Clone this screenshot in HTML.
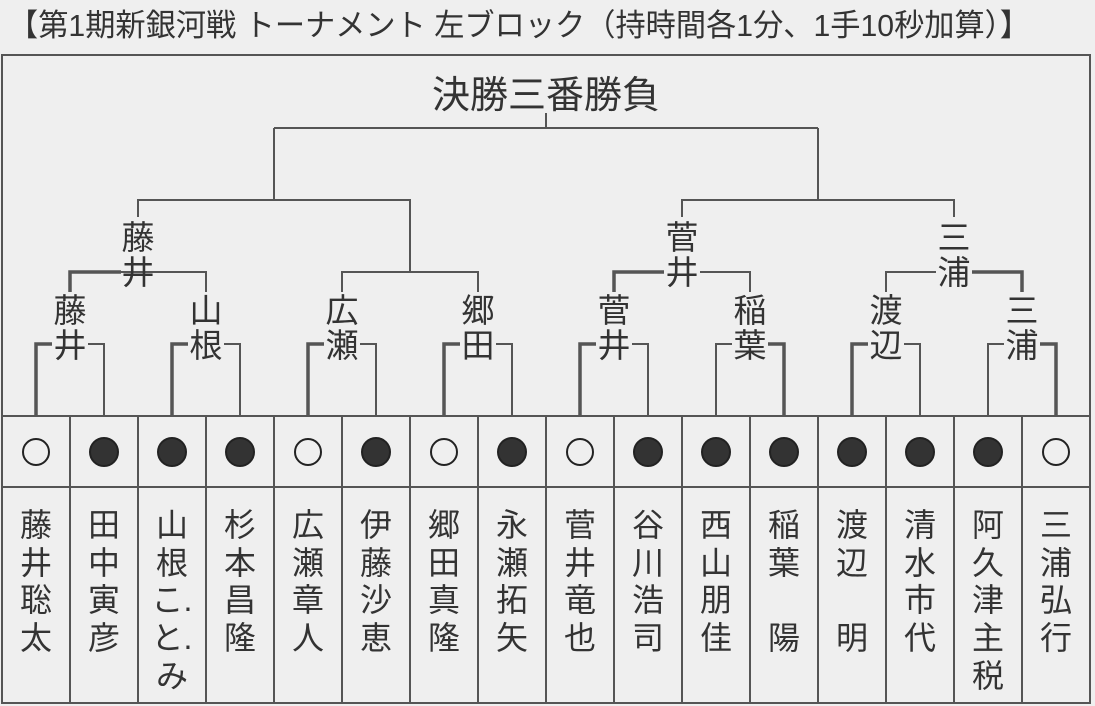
<!DOCTYPE html>
<html><head><meta charset="utf-8"><style>
html,body{margin:0;padding:0;background:#efefef;}
svg{display:block;}
text{font-family:"Liberation Sans","Noto Sans CJK JP",sans-serif;fill:#333;}
</style></head><body>
<svg width="1095" height="706" viewBox="0 0 1095 706" xmlns="http://www.w3.org/2000/svg">
<rect width="1095" height="706" fill="#efefef"/>
<text x="8" y="36" font-size="31" textLength="1022" lengthAdjust="spacingAndGlyphs">【第1期新銀河戦 トーナメント 左ブロック（持時間各1分、1手10秒加算）】</text>
<g stroke="#555" fill="none" stroke-width="2">
<rect x="2" y="55" width="1088" height="648"/>
<line x1="2" y1="416" x2="1090" y2="416"/>
<line x1="2" y1="487" x2="1090" y2="487"/>
<path d="M70 416V703M138 416V703M206 416V703M274 416V703M342 416V703M410 416V703M478 416V703M546 416V703M614 416V703M682 416V703M750 416V703M818 416V703M886 416V703M954 416V703M1022 416V703"/>
<path d="M546 113V128M274 128H818M274 128V200M818 128V200"/>
<path d="M138 217V200H410V272M682 217V200H954V217"/>
<path d="M342 292V272H478V292"/>
<path d="M120 272H206V292" />
<path d="M70 292V272H121" stroke-width="3.5"/>
<path d="M664 272H614V292" stroke-width="3.5"/>
<path d="M700 272H750V292"/>
<path d="M936 272H886V292"/>
<path d="M972 272H1022V292" stroke-width="3.5"/>
</g>
<g stroke="#555" fill="none">
<path d="M36 416V344H52" stroke-width="3.5"/><path d="M88 344H104V416" stroke-width="2"/>
<path d="M172 416V344H188" stroke-width="3.5"/><path d="M224 344H240V416" stroke-width="2"/>
<path d="M308 416V344H324" stroke-width="3.5"/><path d="M360 344H376V416" stroke-width="2"/>
<path d="M444 416V344H460" stroke-width="3.5"/><path d="M496 344H512V416" stroke-width="2"/>
<path d="M580 416V344H596" stroke-width="3.5"/><path d="M632 344H648V416" stroke-width="2"/>
<path d="M716 416V344H732" stroke-width="2"/><path d="M768 344H784V416" stroke-width="3.5"/>
<path d="M852 416V344H868" stroke-width="3.5"/><path d="M904 344H920V416" stroke-width="2"/>
<path d="M988 416V344H1004" stroke-width="2"/><path d="M1040 344H1056V416" stroke-width="3.5"/>
</g>
<g font-size="33" text-anchor="middle">
<text x="546" y="108" font-size="38">決勝三番勝負</text>
<text x="138" y="249">藤</text><text x="138" y="284">井</text>
<text x="682" y="249">菅</text><text x="682" y="284">井</text>
<text x="954" y="249">三</text><text x="954" y="284">浦</text>
<text x="70" y="322">藤</text><text x="70" y="357">井</text>
<text x="206" y="322">山</text><text x="206" y="357">根</text>
<text x="342" y="322">広</text><text x="342" y="357">瀬</text>
<text x="478" y="322">郷</text><text x="478" y="357">田</text>
<text x="614" y="322">菅</text><text x="614" y="357">井</text>
<text x="750" y="322">稲</text><text x="750" y="357">葉</text>
<text x="886" y="322">渡</text><text x="886" y="357">辺</text>
<text x="1022" y="322">三</text><text x="1022" y="357">浦</text>
</g>
<g stroke="#222" stroke-width="2">
<circle cx="36" cy="452" r="13" fill="none"/>
<circle cx="104" cy="452" r="14" fill="#333"/>
<circle cx="172" cy="452" r="14" fill="#333"/>
<circle cx="240" cy="452" r="14" fill="#333"/>
<circle cx="308" cy="452" r="13" fill="none"/>
<circle cx="376" cy="452" r="14" fill="#333"/>
<circle cx="444" cy="452" r="13" fill="none"/>
<circle cx="512" cy="452" r="14" fill="#333"/>
<circle cx="580" cy="452" r="13" fill="none"/>
<circle cx="648" cy="452" r="14" fill="#333"/>
<circle cx="716" cy="452" r="14" fill="#333"/>
<circle cx="784" cy="452" r="14" fill="#333"/>
<circle cx="852" cy="452" r="14" fill="#333"/>
<circle cx="920" cy="452" r="14" fill="#333"/>
<circle cx="988" cy="452" r="14" fill="#333"/>
<circle cx="1056" cy="452" r="13" fill="none"/>
</g>
<g font-size="32" text-anchor="middle">
<text x="36" y="536">藤</text><text x="36" y="574">井</text><text x="36" y="611">聡</text><text x="36" y="649">太</text>
<text x="104" y="536">田</text><text x="104" y="574">中</text><text x="104" y="611">寅</text><text x="104" y="649">彦</text>
<text x="172" y="536">山</text><text x="172" y="574">根</text><text x="172" y="611">こ.</text><text x="172" y="649">と.</text><text x="172" y="687">み</text>
<text x="240" y="536">杉</text><text x="240" y="574">本</text><text x="240" y="611">昌</text><text x="240" y="649">隆</text>
<text x="308" y="536">広</text><text x="308" y="574">瀬</text><text x="308" y="611">章</text><text x="308" y="649">人</text>
<text x="376" y="536">伊</text><text x="376" y="574">藤</text><text x="376" y="611">沙</text><text x="376" y="649">恵</text>
<text x="444" y="536">郷</text><text x="444" y="574">田</text><text x="444" y="611">真</text><text x="444" y="649">隆</text>
<text x="512" y="536">永</text><text x="512" y="574">瀬</text><text x="512" y="611">拓</text><text x="512" y="649">矢</text>
<text x="580" y="536">菅</text><text x="580" y="574">井</text><text x="580" y="611">竜</text><text x="580" y="649">也</text>
<text x="648" y="536">谷</text><text x="648" y="574">川</text><text x="648" y="611">浩</text><text x="648" y="649">司</text>
<text x="716" y="536">西</text><text x="716" y="574">山</text><text x="716" y="611">朋</text><text x="716" y="649">佳</text>
<text x="784" y="536">稲</text><text x="784" y="574">葉</text><text x="784" y="649">陽</text>
<text x="852" y="536">渡</text><text x="852" y="574">辺</text><text x="852" y="649">明</text>
<text x="920" y="536">清</text><text x="920" y="574">水</text><text x="920" y="611">市</text><text x="920" y="649">代</text>
<text x="988" y="536">阿</text><text x="988" y="574">久</text><text x="988" y="611">津</text><text x="988" y="649">主</text><text x="988" y="687">税</text>
<text x="1056" y="536">三</text><text x="1056" y="574">浦</text><text x="1056" y="611">弘</text><text x="1056" y="649">行</text>
</g>
</svg>
</body></html>
